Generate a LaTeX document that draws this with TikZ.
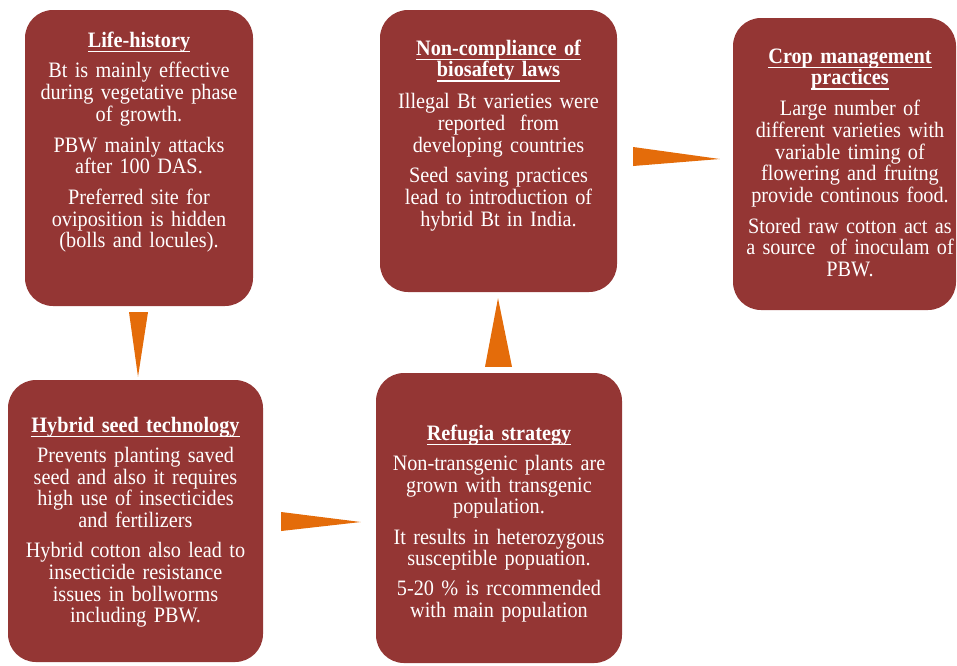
\documentclass[tikz,border=0pt]{standalone}
\usepackage{fontspec}
\setmainfont{Liberation Serif}[FakeStretch=0.92]
\usetikzlibrary{calc}
\definecolor{boxred}{HTML}{943634}
\definecolor{arroworange}{HTML}{E46C0A}
\newcommand\ulx[1]{\leavevmode\setbox0\hbox{\bfseries #1}\rlap{\rule[-4.8pt]{\wd0}{1.5pt}}\box0}
\newcommand\fst{\leavevmode\rule{0pt}{17pt}}
\begin{document}
\begin{tikzpicture}[x=1pt,y=-1pt,
  box/.style={fill=boxred, rounded corners=28pt, inner sep=0pt, draw=none},
  txt/.style={text=white, anchor=north, align=center, text width=250pt, inner sep=0pt,
    font=\fontsize{22}{21.7}\selectfont},
  tri/.style={fill=arroworange, draw=none}]
\useasboundingbox (0,0) rectangle (957,665);

% boxes
\node[box, minimum width=228pt, minimum height=296pt] (life) at (139,158) {};
\node[box, minimum width=237pt, minimum height=282pt] (nc) at (498.5,151) {};
\node[box, minimum width=223pt, minimum height=292pt] (crop) at (844.5,164) {};
\node[box, minimum width=255pt, minimum height=282pt] (hyb) at (135.5,521) {};
\node[box, minimum width=246pt, minimum height=290pt] (ref) at (499,518) {};

% texts
\node[txt] (lifet) at (139,30) {\fst\ulx{Life-history}\\[9pt]
  Bt is mainly effective\\during vegetative phase\\of growth.\\[9pt]
  PBW mainly attacks\\after 100 DAS.\\[9pt]
  Preferred site for\\oviposition is hidden\\(bolls and locules).};
\node[txt] (nct) at (498.5,38) {\fst\ulx{Non-compliance of}\\\ulx{biosafety laws}\\[10pt]
  Illegal Bt varieties were\\reported\ \ from\\developing countries\\[9pt]
  Seed saving practices\\lead to introduction of\\hybrid Bt in India.};
\node[txt] (cropt) at (850,46) {\fst\ulx{Crop management}\\\ulx{practices}\\[9pt]
  Large number of\\different varieties with\\variable timing of\\flowering and fruitng\\provide continous food.\\[9pt]
  Stored raw cotton act as\\a source\ \ of inoculam of\\PBW.};
\node[txt] (hybt) at (135.5,415) {\fst\ulx{Hybrid seed technology}\\[8.5pt]
  Prevents planting saved\\seed and also it requires\\high use of insecticides\\and fertilizers\\[8.5pt]
  Hybrid cotton also lead to\\insecticide resistance\\issues in bollworms\\including PBW.};
\node[txt] (reft) at (499,423) {\fst\ulx{Refugia strategy}\\[8.5pt]
  Non-transgenic plants are\\grown with transgenic\\population.\\[8.5pt]
  It results in heterozygous\\susceptible popuation.\\[8.5pt]
  5-20 \% is rccommended\\with main population};

% arrows (triangles from node to node)
\fill[tri] ($(life.south)+(-10,6)$) -- ($(life.south)+(9,6)$) -- ($(hyb.north)+(2.5,-3)$) -- cycle;
\fill[tri] ($(hyb.east)+(18,-9)$) -- ($(hyb.east)+(18,10)$) -- ($(ref.west)+(-15,4)$) -- cycle;
\fill[tri] ($(ref.north)+(-14,-6)$) -- ($(ref.north)+(13,-6)$) -- ($(nc.south)+(-0.5,6)$) -- cycle;
\fill[tri] ($(nc.east)+(16,-4)$) -- ($(nc.east)+(16,15)$) -- ($(crop.west)+(-13,-5)$) -- cycle;
\end{tikzpicture}
\end{document}
